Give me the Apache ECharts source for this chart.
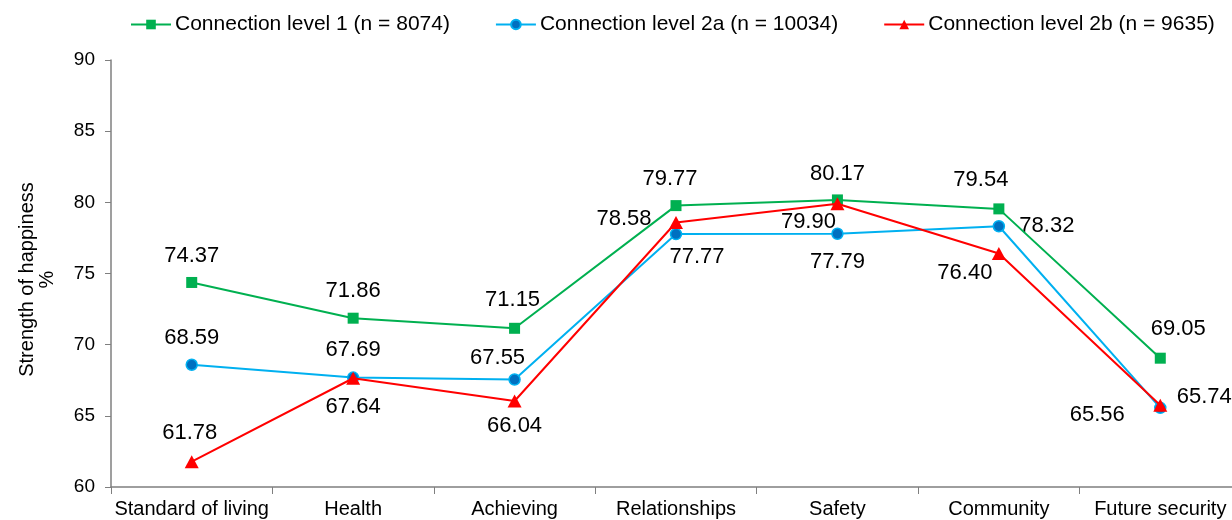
<!DOCTYPE html>
<html>
<head>
<meta charset="utf-8">
<script src="https://cdn.jsdelivr.net/npm/echarts@6/dist/echarts.min.js"></script>
<style>
html,body{margin:0;padding:0;background:#fff;overflow:hidden;width:1232px;height:520px;}
#chart{width:1241px;height:520px;}
</style>
</head>
<body>
<div id="chart"></div>
<script>
var categories = ['Standard of living', 'Health', 'Achieving', 'Relationships', 'Safety', 'Community', 'Future security'];
var seriesNames = ['Connection level 1 (n = 8074)', 'Connection level 2a (n = 10034)', 'Connection level 2b (n = 9635)'];
var level1 = [74.37, 71.86, 71.15, 79.77, 80.17, 79.54, 69.05];
var level2a = [68.59, 67.69, 67.55, 77.77, 77.79, 78.32, 65.56];
var level2b = [61.78, 67.64, 66.04, 78.58, 79.90, 76.40, 65.74];
var yTicks = [60, 65, 70, 75, 80, 85, 90];

// label offsets (style only)
var off1 = [[0,-27],[0,-27],[-2,-28],[-6,-27],[0,-26],[-18,-29],[18,-29]];
var off2a = [[0,-27],[0,-28],[-17,-22],[21,23],[0,28],[48,0],[-63,7]];
var off2b = [[-2,-29],[0,29],[0,25],[-52,-4],[-29,18],[-34,19],[44,-8]];

function build(vals, offs) {
  return vals.map(function (v, i) {
    return { value: v, label: { offset: offs[i] } };
  });
}

var font = '"Liberation Sans", Arial, sans-serif';
var labelStyle = {
  show: true,
  position: 'inside',
  fontSize: 22,
  fontFamily: font,
  color: '#000',
  formatter: function (p) { return p.value.toFixed(2); }
};

var chart = echarts.init(document.getElementById('chart'), null, { renderer: 'canvas' });
chart.setOption({
  animation: false,
  backgroundColor: '#fff',
  textStyle: { fontFamily: font },
  legend: {
    top: 9,
    left: 125,
    itemWidth: 40,
    itemHeight: 12,
    itemGap: 45,
    textStyle: { fontSize: 21, fontFamily: font, color: '#000', padding: [0, 0, 0, -1] },
    data: seriesNames
  },
  grid: { left: 111, top: 60, bottom: 33, right: 0, containLabel: false },
  xAxis: {
    type: 'category',
    data: categories,
    boundaryGap: true,
    axisLine: { lineStyle: { color: '#7f7f7f', width: 1.5 } },
    axisTick: { show: true, length: 7, alignWithLabel: false, lineStyle: { color: '#7f7f7f' } },
    axisLabel: { fontSize: 20, fontFamily: font, color: '#000', margin: 12, interval: 0 }
  },
  yAxis: {
    type: 'value',
    min: yTicks[0],
    max: yTicks[yTicks.length - 1],
    interval: 5,
    name: 'Strength of happiness\n%',
    nameLocation: 'middle',
    nameGap: 54,
    nameTextStyle: { fontSize: 20, fontFamily: font, color: '#000', lineHeight: 20, padding: [0, 12, 0, 0] },
    axisLine: { show: true, lineStyle: { color: '#7f7f7f', width: 1.5 } },
    axisTick: { show: true, length: 6, lineStyle: { color: '#7f7f7f' } },
    axisLabel: { fontSize: 19, fontFamily: font, color: '#000', margin: 16 },
    splitLine: { show: false }
  },
  series: [
    {
      name: seriesNames[0],
      type: 'line',
      data: build(level1, off1),
      symbol: 'rect',
      symbolSize: 11,
      itemStyle: { color: '#00B050' },
      lineStyle: { color: '#00B050', width: 2 },
      label: labelStyle,
      z: 3
    },
    {
      name: seriesNames[1],
      type: 'line',
      data: build(level2a, off2a),
      symbol: 'circle',
      symbolSize: 11,
      itemStyle: { color: '#0070C0', borderColor: '#00B0F0', borderWidth: 1.5 },
      lineStyle: { color: '#00B0F0', width: 2 },
      label: labelStyle,
      z: 2
    },
    {
      name: seriesNames[2],
      type: 'line',
      data: build(level2b, off2b),
      symbol: 'triangle',
      symbolSize: [14, 13],
      itemStyle: { color: '#FF0000' },
      lineStyle: { color: '#FF0000', width: 2 },
      label: labelStyle,
      z: 4
    }
  ]
});
</script>
</body>
</html>
